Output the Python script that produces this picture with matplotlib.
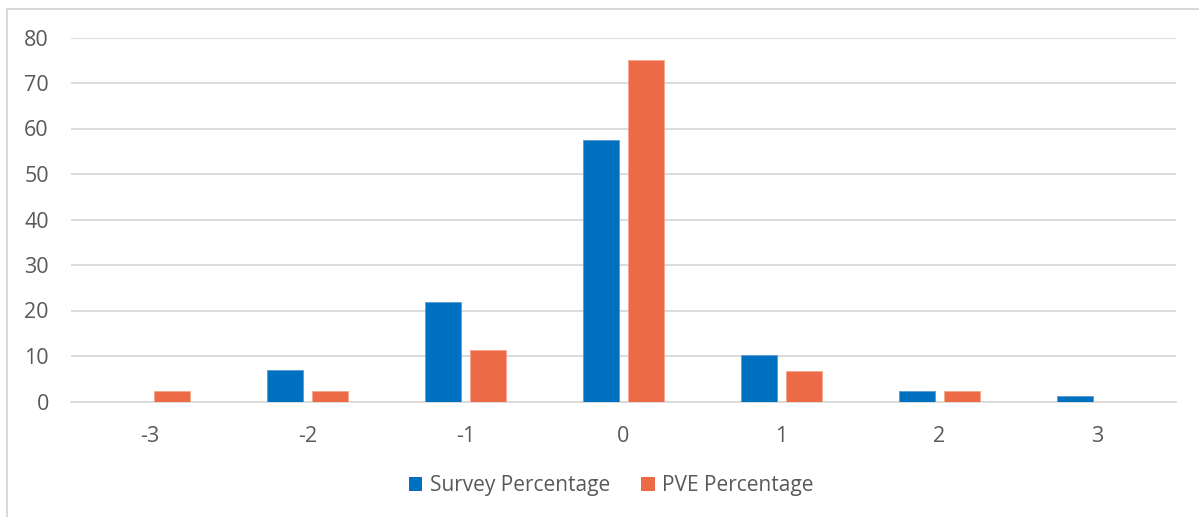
import numpy as np
import matplotlib.pyplot as plt
from matplotlib.lines import Line2D
from matplotlib.patches import Patch

categories = ['-3', '-2', '-1', '0', '1', '2', '3']
survey_pct = [0, 6.9, 21.8, 57.5, 10.3, 2.3, 1.1]
pve_pct = [2.3, 2.3, 11.4, 75.0, 6.8, 2.3, 0]

BLUE = '#0070C0'
ORANGE = '#EC6A45'
TEXT = '#595959'
GRID = '#D9D9D9'

plt.rcParams['font.family'] = ['Open Sans', 'DejaVu Sans']

W, H = 1199, 517
fig = plt.figure(figsize=(W / 100, H / 100), dpi=100)

left, right = 71 / W, 1176 / W
bottom, top = 1 - 401.5 / H, 1 - 37.5 / H
ax = fig.add_axes([left, bottom, right - left, top - bottom])

x = np.arange(len(categories))
width = 0.228
offset = 0.1426
ax.bar(x - offset, survey_pct, width, color=BLUE, edgecolor='#5A9BD5',
       linewidth=0.6, zorder=3, label='Survey Percentage')
ax.bar(x + offset, pve_pct, width, color=ORANGE, edgecolor='#F4A58A',
       linewidth=0.6, zorder=3, label='PVE Percentage')

ax.set_xlim(-0.5, len(categories) - 0.5)
ax.set_ylim(0, 80)
ax.set_yticks(range(0, 81, 10))
ax.set_xticks(x)
ax.set_xticklabels(categories)
ax.yaxis.grid(True, color=GRID, linewidth=1.3, zorder=0)
ax.set_axisbelow(True)
for side in ['top', 'right', 'left']:
    ax.spines[side].set_visible(False)
ax.spines['bottom'].set_color(GRID)
ax.spines['bottom'].set_linewidth(1.3)
ax.tick_params(axis='both', length=0, labelsize=15.5, colors=TEXT)
ax.tick_params(axis='y', pad=16)
ax.tick_params(axis='x', pad=18)

handles = [Patch(facecolor=BLUE, edgecolor='none'),
           Patch(facecolor=ORANGE, edgecolor='none')]
fig.legend(handles, ['Survey Percentage', 'PVE Percentage'],
           loc='center', bbox_to_anchor=(611 / W, 1 - 486 / H), ncol=2,
           frameon=False, fontsize=15, labelcolor=TEXT,
           handlelength=0.65, handleheight=0.65, handletextpad=0.35,
           columnspacing=1.5)

# chart frame (top and left edges)
fig.add_artist(Line2D([7 / W, 1], [1 - 8.5 / H, 1 - 8.5 / H],
                      color=GRID, linewidth=1.5, transform=fig.transFigure))
fig.add_artist(Line2D([7 / W, 7 / W], [0, 1 - 8.5 / H],
                      color=GRID, linewidth=1.5, transform=fig.transFigure))

fig.savefig('out.png', dpi=100)
